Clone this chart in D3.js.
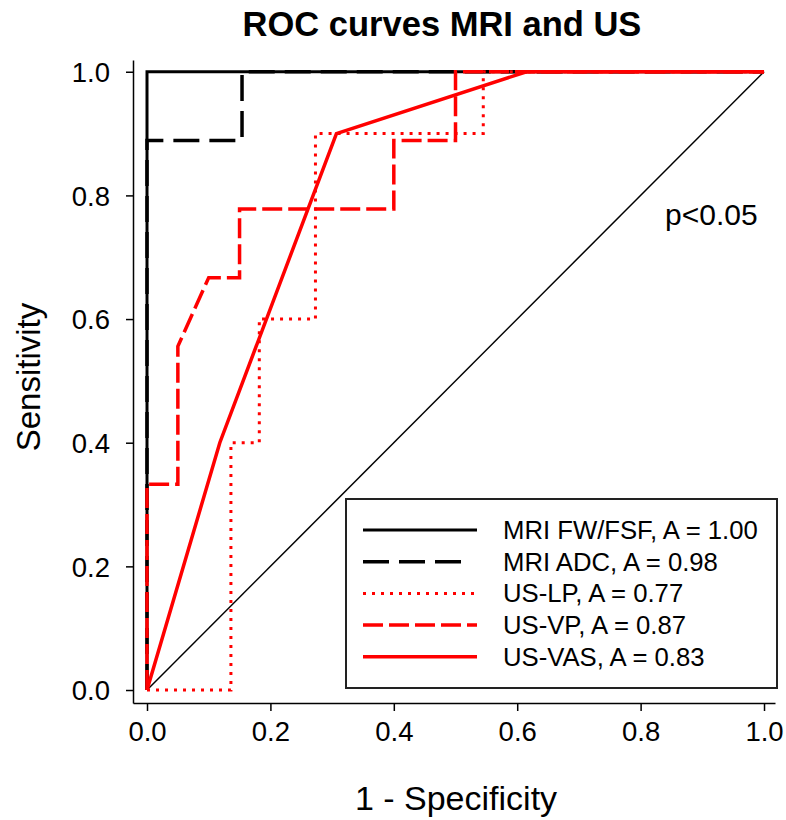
<!DOCTYPE html>
<html>
<head>
<meta charset="utf-8">
<script src="https://cdn.jsdelivr.net/npm/d3@7"></script>
<style>
  body { margin: 0; background: #fff; }
  svg text { font-family: 'Liberation Sans', Arial, sans-serif; fill: #000; }
</style>
</head>
<body>
<svg id="chart"></svg>
<script>
// ROC data: false positive rate (1 - specificity) and true positive rate
const curveNames = ['MRI FW/FSF', 'MRI ADC', 'US-LP', 'US-VP', 'US-VAS'];
const aucValues = [1.00, 0.98, 0.77, 0.87, 0.83];

const fwfsfFpr = [0, 0, 1];
const fwfsfTpr = [0, 1, 1];

const adcFpr = [0, 0, 0.154, 0.154, 1];
const adcTpr = [0, 0.889, 0.889, 1, 1];

const lpFpr = [0, 0.136, 0.136, 0.182, 0.182, 0.273, 0.273, 0.545, 0.545, 1];
const lpTpr = [0, 0, 0.4, 0.4, 0.6, 0.6, 0.9, 0.9, 1, 1];

const vpFpr = [0, 0, 0.05, 0.05, 0.1, 0.15, 0.15, 0.4, 0.4, 0.5, 0.5, 1];
const vpTpr = [0, 0.333, 0.333, 0.556, 0.667, 0.667, 0.778, 0.778, 0.889, 0.889, 1, 1];

const vasFpr = [0, 0.118, 0.307, 0.615, 1];
const vasTpr = [0, 0.4, 0.9, 1, 1];

const tickValues = [0, 0.2, 0.4, 0.6, 0.8, 1.0];
const pText = 'p<0.05';

(() => {
  const width = 786, height = 820;
  const svg = d3.select('#chart').attr('width', width).attr('height', height);

  const x = d3.scaleLinear().domain([-0.0227, 1.0178]).range([133, 775]);
  const y = d3.scaleLinear().domain([-0.021, 1.019]).range([703, 60]);

  const series = [
    { fpr: fwfsfFpr, tpr: fwfsfTpr, color: '#000', w: 3, dash: null },
    { fpr: adcFpr, tpr: adcTpr, color: '#000', w: 3.5, dash: '26,10' },
    { fpr: lpFpr, tpr: lpTpr, color: '#ff0000', w: 3, dash: '3,6' },
    { fpr: vpFpr, tpr: vpTpr, color: '#ff0000', w: 3.5, dash: '20,6' },
    { fpr: vasFpr, tpr: vasTpr, color: '#ff0000', w: 3.5, dash: null }
  ];

  // axes
  const xAxis = d3.axisBottom(x).tickValues(tickValues).tickSizeOuter(0).tickSizeInner(8)
    .tickPadding(10).tickFormat(d3.format('.1f'));
  const yAxis = d3.axisLeft(y).tickValues(tickValues).tickSizeOuter(0).tickSizeInner(7)
    .tickPadding(16).tickFormat(d3.format('.1f'));

  const gx = svg.append('g').attr('transform', 'translate(0,703)').call(xAxis);
  const gy = svg.append('g').attr('transform', 'translate(133,0)').call(yAxis);
  [gx, gy].forEach(g => {
    g.selectAll('path, line').attr('stroke', '#000').attr('stroke-width', 1.5);
    g.selectAll('text').style('font-size', '27.5px').attr('fill', '#000');
  });
  gy.selectAll('text').attr('dy', '0.36em');

  // chance line
  svg.append('line')
    .attr('x1', x(0)).attr('y1', y(0)).attr('x2', x(1)).attr('y2', y(1))
    .attr('stroke', '#000').attr('stroke-width', 1.5);

  const line = d3.line().x(d => x(d[0])).y(d => y(d[1]));

  series.forEach(s => {
    const pts = s.fpr.map((v, i) => [v, s.tpr[i]]);
    svg.append('path')
      .attr('d', line(pts))
      .attr('fill', 'none')
      .attr('stroke', s.color)
      .attr('stroke-width', s.w)
      .attr('stroke-linejoin', 'miter')
      .attr('stroke-dasharray', s.dash);
  });

  // titles
  svg.append('text').attr('x', 442).attr('y', 36).attr('text-anchor', 'middle')
    .style('font-size', '34.5px').style('font-weight', 'bold').text('ROC curves MRI and US');
  svg.append('text').attr('x', 456).attr('y', 810).attr('text-anchor', 'middle')
    .style('font-size', '34px').text('1 - Specificity');
  svg.append('text').attr('transform', 'translate(40,377) rotate(-90)').attr('text-anchor', 'middle')
    .style('font-size', '33px').text('Sensitivity');
  svg.append('text').attr('x', 665).attr('y', 225).style('font-size', '30px').text(pText);

  // legend
  const lg = svg.append('g');
  lg.append('rect').attr('x', 346).attr('y', 499).attr('width', 431).attr('height', 189)
    .attr('fill', '#fff').attr('stroke', '#222').attr('stroke-width', 2);
  series.forEach((s, i) => {
    const ly = 530 + i * 31.7;
    lg.append('line').attr('x1', 363).attr('x2', s.dash === '26,10' ? 463 : 477)
      .attr('y1', ly).attr('y2', ly)
      .attr('stroke', s.color).attr('stroke-width', s.w)
      .attr('stroke-dasharray', s.dash);
    lg.append('text').attr('x', 503).attr('y', ly + 9).style('font-size', '25.7px')
      .text(`${curveNames[i]}, A = ${aucValues[i].toFixed(2)}`);
  });
})();
</script>
</body>
</html>
